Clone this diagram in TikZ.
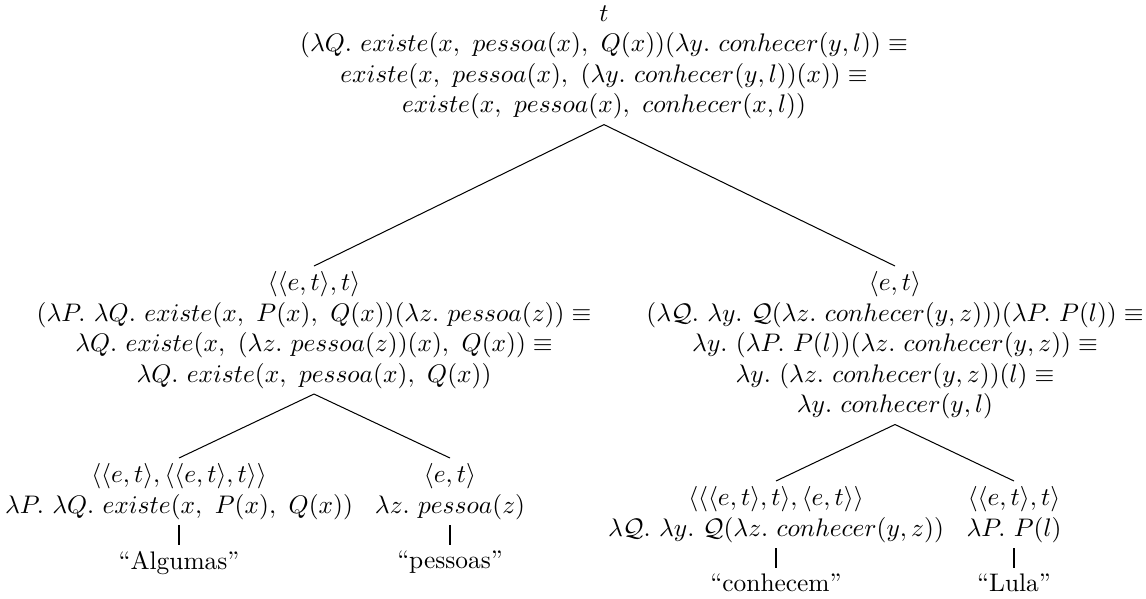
\documentclass[tikz,border=0pt]{standalone}
\usepackage{amsmath,amssymb}
\usetikzlibrary{positioning}

\begin{document}
\begin{tikzpicture}[x=0.3937pt, y=-0.3937pt, node distance=8pt]
  \tikzstyle{sem} = [align=center, inner xsep=0pt, inner ysep=2pt, anchor=north]
  \tikzstyle{word} = [inner xsep=0pt, inner ysep=2pt]
  \tikzstyle{branch} = [draw, thin]
  \tikzstyle{lexbar} = [draw, line width=1pt]

  \useasboundingbox (0,0) rectangle (1146,598);

  \node[sem] (root) at (604,0) {$t$\\
    $(\lambda Q.\ existe(x,\ pessoa(x),\ Q(x))(\lambda y.\ conhecer(y,l)) \equiv$\\
    $existe(x,\ pessoa(x),\ (\lambda y.\ conhecer(y,l))(x)) \equiv$\\
    $existe(x,\ pessoa(x),\ conhecer(x,l))$};

  \node[sem] (np) at (314,266) {$\langle\langle e,t\rangle,t\rangle$\\
    $(\lambda P.\ \lambda Q.\ existe(x,\ P(x),\ Q(x))(\lambda z.\ pessoa(z)) \equiv$\\
    $\lambda Q.\ existe(x,\ (\lambda z.\ pessoa(z))(x),\ Q(x)) \equiv$\\
    $\lambda Q.\ existe(x,\ pessoa(x),\ Q(x))$};
  \node[sem] (vp) at (895,266) {$\langle e,t\rangle$\\
    $(\lambda\mathcal{Q}.\ \lambda y.\ \mathcal{Q}(\lambda z.\ conhecer(y,z)))(\lambda P.\ P(l)) \equiv$\\
    $\lambda y.\ (\lambda P.\ P(l))(\lambda z.\ conhecer(y,z)) \equiv$\\
    $\lambda y.\ (\lambda z.\ conhecer(y,z))(l) \equiv$\\
    $\lambda y.\ conhecer(y,l)$};

  \node[sem] (det) at (179,458) {$\langle\langle e,t\rangle,\langle\langle e,t\rangle,t\rangle\rangle$\\
    $\lambda P.\ \lambda Q.\ existe(x,\ P(x),\ Q(x))$};
  \node[sem] (noun) at (450,458) {$\langle e,t\rangle$\\
    $\lambda z.\ pessoa(z)$};
  \node[sem] (verb) at (776,481) {$\langle\langle\langle e,t\rangle,t\rangle,\langle e,t\rangle\rangle$\\
    $\lambda\mathcal{Q}.\ \lambda y.\ \mathcal{Q}(\lambda z.\ conhecer(y,z))$};
  \node[sem] (obj) at (1014,481) {$\langle\langle e,t\rangle,t\rangle$\\
    $\lambda P.\ P(l)$};

  \node[word, below=of det] (algumas) {``Algumas''};
  \node[word, below=of noun] (pessoas) {``pessoas''};
  \node[word, below=of verb] (conhecem) {``conhecem''};
  \node[word, below=of obj] (lula) {``Lula''};

  \path[branch] (root.south) -- (np.north);
  \path[branch] (root.south) -- (vp.north);
  \path[branch] (np.south) -- (det.north);
  \path[branch] (np.south) -- (noun.north);
  \path[branch] (vp.south) -- (verb.north);
  \path[branch] (vp.south) -- (obj.north);

  \path[lexbar] (det) -- (algumas);
  \path[lexbar] (noun) -- (pessoas);
  \path[lexbar] (verb) -- (conhecem);
  \path[lexbar] (obj) -- (lula);
\end{tikzpicture}
\end{document}
